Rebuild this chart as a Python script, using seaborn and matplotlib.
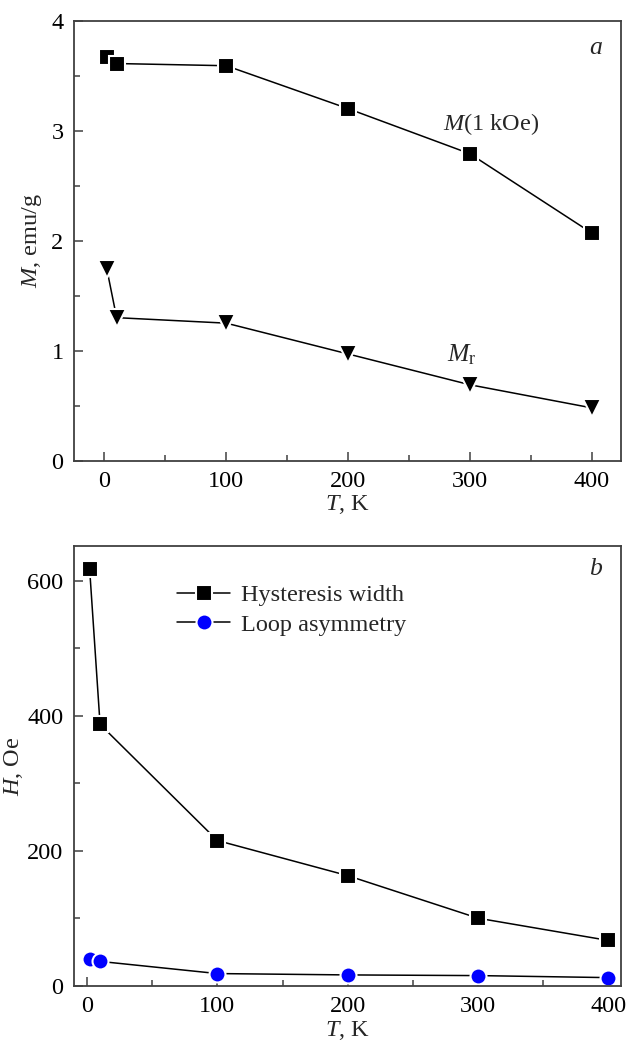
import matplotlib
matplotlib.use("Agg")
import matplotlib.pyplot as plt
import seaborn as sns
import numpy as np

# ---- data ----
T = [2, 10, 100, 200, 300, 400]
M_1kOe = [3.67, 3.61, 3.59, 3.20, 2.79, 2.07]
M_r = [1.74, 1.30, 1.25, 0.97, 0.69, 0.48]
hyst_width = [617, 387, 215, 163, 100, 67]
loop_asym = [39, 36, 18, 16, 15, 12]
top_yticks = [0, 1, 2, 3, 4]
bottom_yticks = [0, 200, 400, 600]
xticks = [0, 100, 200, 300, 400]

sns.set_theme(style="ticks")
plt.rcParams["font.family"] = ["Liberation Serif", "DejaVu Serif"]
plt.rcParams["mathtext.fontset"] = "custom"
plt.rcParams["mathtext.it"] = "Liberation Serif:italic"
plt.rcParams["mathtext.rm"] = "Liberation Serif"
FS = 17.5
spine_col = "#404040"

fig = plt.figure(figsize=(6.33, 10.52), dpi=100)
ax1 = fig.add_axes([0.1169, 0.5621, 0.864, 0.4183])
ax2 = fig.add_axes([0.1169, 0.0630, 0.8649, 0.4179])

line_kw = dict(color="black", linewidth=1.1, estimator=None, sort=False,
               markeredgecolor="white", markeredgewidth=1.5)

sns.lineplot(x=T, y=M_1kOe, ax=ax1, marker="s", markersize=11.5, **line_kw)
sns.lineplot(x=T, y=M_r, ax=ax1, marker="v", markersize=13.5, **line_kw)

sns.lineplot(x=T, y=hyst_width, ax=ax2, marker="s", markersize=11.5,
             label="Hysteresis width", **line_kw)
sns.lineplot(x=T, y=loop_asym, ax=ax2, marker="o", markersize=11.5,
             markerfacecolor="#0000ff", label="Loop asymmetry", **line_kw)

for ax in (ax1, ax2):
    for s in ax.spines.values():
        s.set_color(spine_col)
        s.set_linewidth(1.3)
    ax.tick_params(which="both", direction="in", top=False, right=False,
                   colors=spine_col, labelcolor="black", labelsize=FS, width=1.1)
    ax.tick_params(which="major", length=6.5, pad=7.5)
    ax.tick_params(which="minor", length=4)
    ax.set_xticks(xticks)
    ax.set_xticks([50, 150, 250, 350], minor=True)
    ax.set_xlabel(r"$T$, K", fontsize=FS, labelpad=1)

ax1.set_xlim(-25, 424)
ax1.set_ylim(0, 4)
ax1.set_yticks(top_yticks)
ax1.set_yticks([0.5, 1.5, 2.5, 3.5], minor=True)
ax1.set_ylabel(r"$M$, emu/g", fontsize=FS, labelpad=5)

ax2.set_xlim(-10, 410)
ax2.set_ylim(0, 651)
ax2.set_yticks(bottom_yticks)
ax2.set_yticks([100, 300, 500], minor=True)
ax2.set_ylabel(r"$H$, Oe", fontsize=FS, labelpad=2)

ax1.text(317, 3.06, r"$M$(1 kOe)", fontsize=FS, ha="center", va="center")
ax1.text(293, 0.96, r"$M_{\mathrm{r}}$", fontsize=FS + 1, ha="center", va="center")
ax1.text(0.955, 0.938, r"$a$", transform=ax1.transAxes, fontsize=FS + 1,
         ha="center", va="center")
ax2.text(0.954, 0.948, r"$b$", transform=ax2.transAxes, fontsize=FS + 1,
         ha="center", va="center")

leg = ax2.legend(loc="upper left", bbox_to_anchor=(0.17, 0.935), frameon=False,
                 fontsize=FS, handlelength=2.2, handletextpad=0.45,
                 labelspacing=0.3, borderaxespad=0)

fig.savefig("out.png", dpi=100)
